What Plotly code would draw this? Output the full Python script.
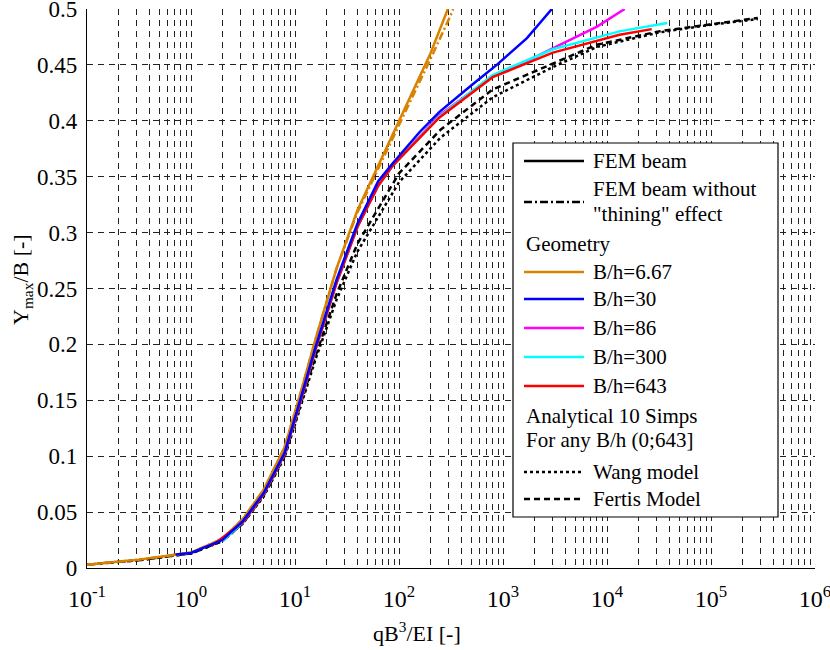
import plotly.graph_objects as go

# ---------------- data ----------------
# x values are qB^3/EI, y values are Ymax/B
x_orange = [0.1, 0.316, 1.0, 2.0, 3.16, 5.0, 7.94, 11.2, 15.8, 25.1, 39.8, 56.2, 123, 200, 295]
y_orange = [0.003, 0.0075, 0.0138, 0.026, 0.044, 0.070, 0.108, 0.155, 0.205, 0.268, 0.320, 0.350, 0.419, 0.460, 0.500]

x_orange_dd = [0.1, 0.316, 1.0, 2.0, 3.16, 5.0, 7.94, 11.2, 15.8, 25.1, 39.8, 56.2, 123, 200, 316, 331]
y_orange_dd = [0.003, 0.0075, 0.0138, 0.026, 0.044, 0.070, 0.108, 0.155, 0.205, 0.268, 0.318, 0.347, 0.414, 0.455, 0.495, 0.500]

x_blue = [0.71, 1.0, 2.0, 3.16, 5.0, 7.94, 11.2, 15.8, 25.1, 39.8, 63.1, 87.1, 158, 245, 501, 871, 1700, 2950]
y_blue = [0.012, 0.0135, 0.025, 0.042, 0.067, 0.103, 0.150, 0.198, 0.258, 0.308, 0.346, 0.362, 0.390, 0.408, 0.432, 0.450, 0.474, 0.500]

x_magenta = [2.0, 3.16, 5.0, 7.94, 11.2, 15.8, 25.1, 39.8, 63.1, 87.1, 245, 794, 1580, 3020, 7940, 14800]
y_magenta = [0.024, 0.041, 0.066, 0.102, 0.148, 0.196, 0.255, 0.305, 0.342, 0.360, 0.405, 0.440, 0.452, 0.465, 0.484, 0.500]

x_cyan = [2.0, 3.16, 5.0, 7.94, 11.2, 15.8, 25.1, 39.8, 63.1, 87.1, 245, 794, 3020, 13200, 38000]
y_cyan = [0.024, 0.041, 0.066, 0.102, 0.148, 0.196, 0.255, 0.305, 0.342, 0.360, 0.404, 0.441, 0.464, 0.480, 0.4875]

x_red = [1.58, 3.16, 5.0, 7.94, 11.2, 15.8, 25.1, 39.8, 63.1, 87.1, 245, 794, 3020, 13200, 26900]
y_red = [0.020, 0.041, 0.066, 0.102, 0.148, 0.196, 0.255, 0.305, 0.342, 0.360, 0.403, 0.439, 0.461, 0.477, 0.482]

x_fertis = [0.1, 0.316, 1.0, 2.0, 3.16, 5.0, 7.94, 11.2, 15.8, 25.1, 39.8, 100, 251, 794, 3160, 7940, 31600, 100000, 282000]
y_fertis = [0.003, 0.007, 0.013, 0.024, 0.040, 0.065, 0.100, 0.145, 0.190, 0.245, 0.290, 0.353, 0.392, 0.428, 0.452, 0.468, 0.480, 0.486, 0.492]

x_wang = [0.1, 0.316, 1.0, 2.0, 3.16, 5.0, 7.94, 11.2, 15.8, 25.1, 39.8, 100, 251, 794, 3160, 7940, 31600, 100000, 282000]
y_wang = [0.003, 0.007, 0.013, 0.024, 0.040, 0.064, 0.099, 0.143, 0.187, 0.240, 0.283, 0.345, 0.385, 0.421, 0.449, 0.466, 0.479, 0.486, 0.491]

y_ticks = [0, 0.05, 0.1, 0.15, 0.2, 0.25, 0.3, 0.35, 0.4, 0.45, 0.5]
y_ticktext = ["0", "0.05", "0.1", "0.15", "0.2", "0.25", "0.3", "0.35", "0.4", "0.45", "0.5"]
x_ticks = [0.1, 1, 10, 100, 1000, 10000, 100000, 1000000]
x_ticktext = ["10<sup>-1</sup>", "10<sup>0</sup>", "10<sup>1</sup>", "10<sup>2</sup>",
              "10<sup>3</sup>", "10<sup>4</sup>", "10<sup>5</sup>", "10<sup>6</sup>"]

ORANGE = "#D98200"
BLUE = "#0000FF"
MAGENTA = "#FF00FF"
CYAN = "#00FFFF"
RED = "#FF0000"
FONT = "Liberation Serif"

fig = go.Figure()

def add(x, y, color, dash="solid", width=2.5):
    fig.add_trace(go.Scatter(x=x, y=y, mode="lines", showlegend=False,
                             line=dict(color=color, width=width, dash=dash)))

add(x_wang, y_wang, "black", "dot", 2.5)
add(x_fertis, y_fertis, "black", "6px,4px", 2.5)
add(x_orange_dd, y_orange_dd, ORANGE, "8px,3px,2px,3px", 2.5)
add(x_orange, y_orange, ORANGE)
add(x_magenta, y_magenta, MAGENTA)
add(x_cyan, y_cyan, CYAN)
add(x_red, y_red, RED)
add(x_blue, y_blue, BLUE)

minor_vals = [k * 10 ** n for n in range(-1, 6) for k in range(2, 10)]

GRID = "#222222"
fig.update_xaxes(type="log", range=[-1, 6.00001], tickvals=x_ticks, ticktext=x_ticktext,
                 showgrid=True, gridcolor=GRID, griddash="6px,5px", gridwidth=1,
                 minor=dict(tickvals=minor_vals, showgrid=True, gridcolor=GRID,
                            griddash="6px,5px", gridwidth=1),
                 showline=True, linecolor="black", linewidth=1.2, ticks="",
                 zeroline=False, ticklabelstandoff=9, automargin=False,
                 ticklabeloverflow="allow",
                 tickfont=dict(family=FONT, size=24, color="black"))
fig.update_yaxes(range=[0, 0.50001], tickvals=y_ticks, ticktext=y_ticktext,
                 showgrid=True, gridcolor=GRID, griddash="6px,5px", gridwidth=1,
                 showline=True, linecolor="black", linewidth=1.2, ticks="",
                 zeroline=False, ticklabelstandoff=4, automargin=False,
                 ticklabeloverflow="allow",
                 tickfont=dict(family=FONT, size=23, color="black"))

L, R, T, B = 87, 15, 9, 82
W, H = 830, 650
pw, ph = W - L - R, H - T - B

def px(x):
    return (x - L) / pw

def py(y):
    return (H - B - y) / ph

# axis titles
fig.add_annotation(xref="paper", yref="paper", x=px(417), y=py(632),
                   text="qB<sup>3</sup>/EI [-]", showarrow=False, xanchor="center", yanchor="middle",
                   font=dict(family=FONT, size=22, color="black"))
fig.add_annotation(xref="paper", yref="paper", x=px(22), y=py(280),
                   text="Y<sub>max</sub>/B [-]", showarrow=False, xanchor="center", yanchor="middle",
                   textangle=-90, font=dict(family=FONT, size=22, color="black"))

# ---------------- manual legend ----------------
fig.add_shape(type="rect", xref="paper", yref="paper",
              x0=px(513), x1=px(778), y0=py(517), y1=py(143),
              line=dict(color="black", width=1.2), fillcolor="white", layer="above")

legend_lines = [
    (161, "black", "solid"),
    (202, "black", "8px,3px,2px,3px"),
    (272, ORANGE, "solid"),
    (299, BLUE, "solid"),
    (328, MAGENTA, "solid"),
    (357, CYAN, "solid"),
    (386, RED, "solid"),
    (472, "black", "dot"),
    (499, "black", "6px,4px"),
]
legend_texts = [
    (591, 161, "FEM beam"),
    (591, 189, "FEM beam without"),
    (591, 214, "\"thining\" effect"),
    (524, 244, "Geometry"),
    (591, 272, "B/h=6.67"),
    (591, 299, "B/h=30"),
    (591, 328, "B/h=86"),
    (591, 357, "B/h=300"),
    (591, 386, "B/h=643"),
    (524, 416, "Analytical 10 Simps"),
    (524, 440, "For any B/h (0;643]"),
    (591, 472, "Wang model"),
    (591, 499, "Fertis Model"),
]
for yy, col, dash in legend_lines:
    fig.add_shape(type="line", xref="paper", yref="paper",
                  x0=px(524), x1=px(584), y0=py(yy), y1=py(yy),
                  line=dict(color=col, width=2.5, dash=dash), layer="above")
for xx, yy, text in legend_texts:
    fig.add_annotation(xref="paper", yref="paper", x=px(xx), y=py(yy),
                       text=text, showarrow=False, xanchor="left", yanchor="middle",
                       align="left", font=dict(family=FONT, size=21, color="black"))

fig.update_layout(width=W, height=H, margin=dict(l=L, r=R, t=T, b=B),
                  plot_bgcolor="white", paper_bgcolor="white", showlegend=False)

fig.write_html("out.html")
